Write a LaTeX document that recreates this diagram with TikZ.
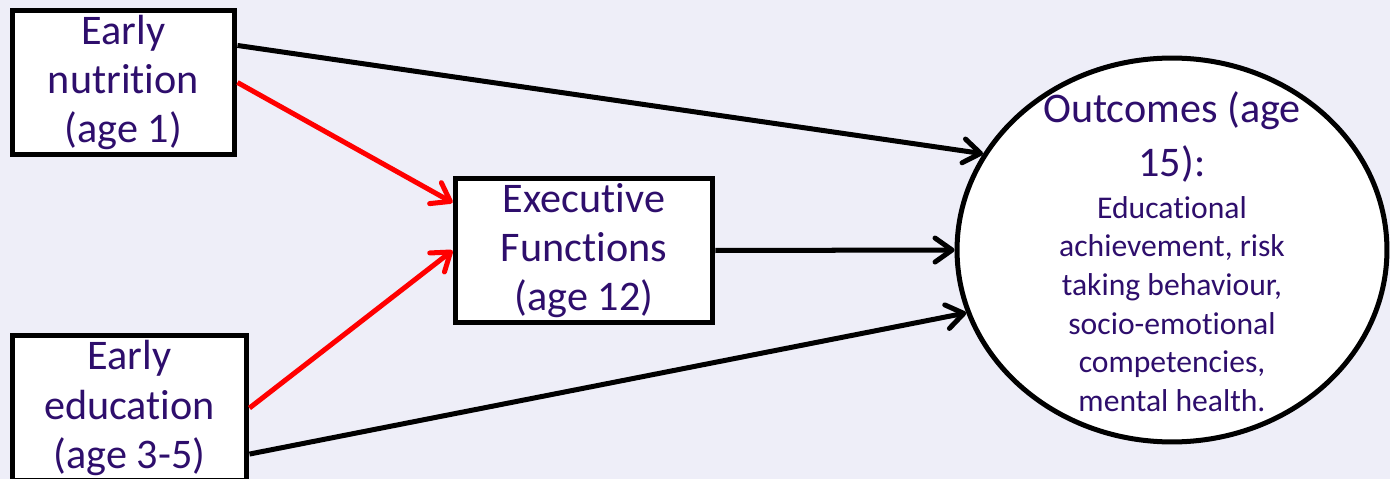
\documentclass[tikz,border=0pt]{standalone}
\usepackage{fontspec}
\setmainfont{Carlito}[Ligatures={NoCommon,NoContextual}]
\usetikzlibrary{arrows.meta,shapes.geometric}
\definecolor{bgpale}{RGB}{238,238,248}
\definecolor{txtind}{RGB}{46,14,108}
\definecolor{arrred}{RGB}{255,0,0}
\tikzset{
  agebox/.style={draw=black,fill=white,line width=2.85pt,inner sep=0pt,align=center,
    text=txtind,font=\fontsize{24}{28}\selectfont},
  link/.style={line width=2.85pt,-{Straight Barb[length=3.4mm,width=4.8mm,round]}},
  redlink/.style={link,draw=arrred}
}

\begin{document}
\begin{tikzpicture}[x=0.02cm,y=-0.02cm]
\fill[bgpale] (0,0) rectangle (1390,479);
\useasboundingbox (0,0) rectangle (1390,479);
\node[agebox,minimum width=4.46cm,minimum height=2.9cm] (nutr) at (123.5,82.5) {Early\\nutrition\\(age 1)};
\node[agebox,minimum width=4.7cm,minimum height=2.92cm] (edu) at (129.5,408) {Early\\education\\(age 3-5)};
\node[agebox,minimum width=5.16cm,minimum height=2.9cm] (exec) at (584,250.5) {Executive\\Functions\\(age 12)};
\node[ellipse,draw=black,fill=white,line width=2.85pt,minimum width=8.6cm,minimum height=7.68cm] (out) at (1172,250) {};
\node[align=center,text=txtind,font=\fontsize{24}{31}\selectfont] (outtitle) at (1172,137) {Outcomes (age\\15):};
\node[align=center,text=txtind,font=\fontsize{18}{22}\selectfont] (outlist) at (1172,304) {Educational\\achievement, risk\\taking behaviour,\\socio-emotional\\competencies,\\mental health.};
% direct paths
\draw[link] (nutr.18.6) -- (out.153);
\draw[link] (exec.east) -- (out.west);
\draw[link] (edu.-21.8) -- (out.197);
% via executive functions
\draw[redlink] (nutr.east) -- (exec.160);
\draw[redlink] (edu.east) -- (exec.west);
\end{tikzpicture}
\end{document}
